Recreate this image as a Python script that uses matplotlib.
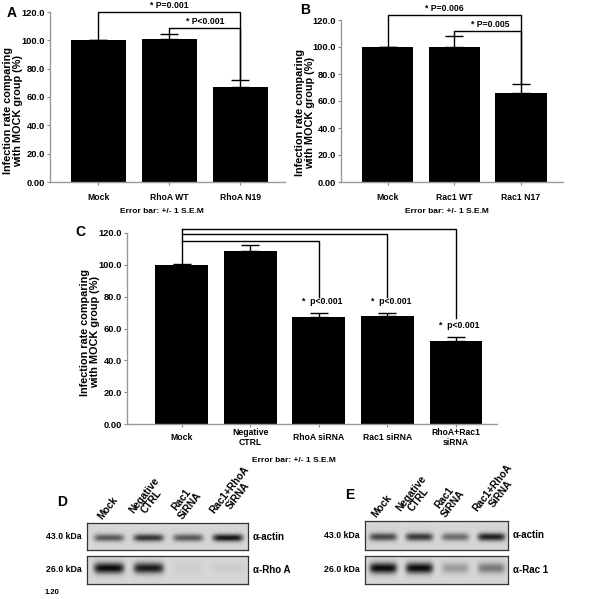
import numpy as np
import matplotlib
matplotlib.use('Agg')
import matplotlib.pyplot as plt

plt.rcParams['font.family'] = ['Liberation Sans', 'DejaVu Sans']
plt.rcParams['font.weight'] = 'bold'

W, H = 600, 599

# Panel A
a_labels = ['Mock', 'RhoA WT', 'RhoA N19']
a_values = [100.0, 101.0, 66.8]
a_err = [0.5, 3.7, 5.2]

# Panel B
b_labels = ['Mock', 'Rac1 WT', 'Rac1 N17']
b_values = [100.0, 100.0, 66.0]
b_err = [0.3, 8.0, 6.5]

# Panel C
c_labels = ['Mock', 'Negative\nCTRL', 'RhoA siRNA', 'Rac1 siRNA', 'RhoA+Rac1\nsiRNA']
c_values = [100.0, 109.0, 67.0, 68.0, 52.0]
c_err = [0.3, 3.5, 2.8, 2.0, 2.7]

y_ticks = [0, 20, 40, 60, 80, 100, 120]
y_ticklabels = ['0.00', '20.0', '40.0', '60.0', '80.0', '100.0', '120.0']

# significance brackets: (from, to, level, text)
a_pairs = [(0, 2, 120.3, '* P=0.001'), (1, 2, 109.0, '* P<0.001')]
b_pairs = [(0, 2, 123.7, '* P=0.006'), (1, 2, 112.0, '* P=0.005')]
c_targets = [2, 3, 4]
c_levels = [115.0, 119.4, 122.5]
c_leg_end = [80.0, 80.0, 66.5]
c_ptext = '*  p<0.001'

# Western blots: lanes and relative band intensities
lane_labels = ['Mock', 'Negative\nCTRL', 'Rac1\nSiRNA', 'Rac1+RhoA\nSiRNA']
d_actin = [0.62, 0.80, 0.62, 0.95]
d_rhoa = [1.00, 0.92, 0.04, 0.05]
e_actin = [0.70, 0.78, 0.52, 0.90]
e_rac1 = [1.00, 1.00, 0.28, 0.45]

fig = plt.figure(figsize=(6.0, 5.99), dpi=100)


def px_axes(x0, y0, x1, y1):
    return fig.add_axes([x0 / W, 1 - y1 / H, (x1 - x0) / W, (y1 - y0) / H])


def px_text(x, y, s, **kw):
    fig.text(x / W, 1 - y / H, s, **kw)


def bar_panel(ax, labels, values, err, xlim, label_pad):
    x = np.arange(len(values))
    ax.bar(x, values, width=0.77, color='black', zorder=2)
    ax.errorbar(x, values, yerr=[np.zeros(len(err)), err], fmt='none',
                ecolor='black', elinewidth=1, capsize=6.5, capthick=1, zorder=3)
    ax.set_xlim(*xlim)
    ax.set_ylim(0, 120)
    ax.set_yticks(y_ticks)
    ax.set_yticklabels(y_ticklabels)
    ax.set_xticks(x)
    ax.set_xticklabels(labels, va='center', linespacing=1.15)
    ax.tick_params(axis='both', width=0.8, length=2.5, color='#888')
    ax.tick_params(axis='y', pad=1, labelsize=6.7)
    ax.tick_params(axis='x', pad=label_pad, labelsize=6.2)
    for s in ['top', 'right']:
        ax.spines[s].set_visible(False)
    for s in ['left', 'bottom']:
        ax.spines[s].set_color('#999')
        ax.spines[s].set_linewidth(1)
    ax.set_facecolor('none')


def bracket(ax, i, j, level, left_bottom, right_bottom, text, tx=None):
    ax.plot([i, i, j, j], [left_bottom, level, level, right_bottom],
            color='black', lw=1, clip_on=False, zorder=4)
    if tx is None:
        tx = (i + j) / 2
    ax.text(tx, level + 1.2, text, ha='center', va='bottom', fontsize=6.2)


ylab = 'Infection rate comparing\nwith MOCK group (%)'

# ---- A
axA = px_axes(50, 12, 285, 182)
bar_panel(axA, a_labels, a_values, a_err, (-0.68, 2.63), 8.5)
tops_a = [v + e for v, e in zip(a_values, a_err)]
bracket(axA, 0, 2, a_pairs[0][2], a_values[0], tops_a[2], a_pairs[0][3])
bracket(axA, 1, 2, a_pairs[1][2], tops_a[1], tops_a[2], a_pairs[1][3])
px_text(13, 111, ylab, rotation=90, ha='center', va='center', fontsize=7.8, linespacing=1.1)
px_text(12, 13, 'A', ha='center', va='center', fontsize=10)
px_text(162, 212, 'Error bar: +/- 1 S.E.M', ha='center', va='center', fontsize=6)

# ---- B
axB = px_axes(341, 20, 563, 182)
bar_panel(axB, b_labels, b_values, b_err, (-0.7, 2.63), 8.5)
tops_b = [v + e for v, e in zip(b_values, b_err)]
bracket(axB, 0, 2, b_pairs[0][2], b_values[0], tops_b[2], b_pairs[0][3], tx=0.85)
bracket(axB, 1, 2, b_pairs[1][2], tops_b[1], tops_b[2], b_pairs[1][3], tx=1.54)
px_text(305, 113, ylab, rotation=90, ha='center', va='center', fontsize=7.8, linespacing=1.1)
px_text(305, 10, 'B', ha='center', va='center', fontsize=10)
px_text(447, 212, 'Error bar: +/- 1 S.E.M', ha='center', va='center', fontsize=6)

# ---- C
axC = px_axes(127, 233, 497, 424)
bar_panel(axC, c_labels, c_values, c_err, (-0.8, 4.6), 7.0)
axC.plot([0, 0], [c_values[0], max(c_levels)], color='black', lw=1, clip_on=False, zorder=4)
for t, lev, end in zip(c_targets, c_levels, c_leg_end):
    axC.plot([0, t, t], [lev, lev, end], color='black', lw=1, clip_on=False, zorder=4)
    axC.text(t + 0.05, c_values[t] + c_err[t] + 7, c_ptext, ha='center', va='center', fontsize=6.2)
px_text(90, 332, ylab, rotation=90, ha='center', va='center', fontsize=7.8, linespacing=1.1)
px_text(80, 232, 'C', ha='center', va='center', fontsize=10)
px_text(294, 460, 'Error bar: +/- 1 S.E.M', ha='center', va='center', fontsize=6)


# ---- Western blots
def blot(ax, intens, xlim, ypos, thick):
    xs = np.linspace(xlim[0], xlim[1], 260)
    ys = np.linspace(0, 1, 50)
    X, Y = np.meshgrid(xs, ys)
    dens = np.zeros_like(X)
    for i, v in enumerate(intens):
        dens += v * np.exp(-((X - i) / 0.38) ** 6) * np.exp(-((Y - ypos) / thick) ** 2)
    img = np.clip(0.84 - 0.8 * dens, 0, 1)
    ax.imshow(img, cmap='gray', vmin=0, vmax=1, aspect='auto',
              extent=(xlim[0], xlim[1], 1, 0), interpolation='bilinear')
    ax.set_xticks([])
    ax.set_yticks([])
    for s in ax.spines.values():
        s.set_color('#333')
        s.set_linewidth(0.9)


def blot_panel(letter, letter_xy, x0, x1, top1, bot1, top2, bot2, lanes_px, up, low,
               up_name, low_name, xlim):
    ax1 = px_axes(x0, top1, x1, bot1)
    blot(ax1, up, xlim, 0.55, 0.14)
    ax2 = px_axes(x0, top2, x1, bot2)
    blot(ax2, low, xlim, 0.45, 0.19)
    px_text(x0 - 5, (top1 + bot1) / 2, '43.0 kDa', ha='right', va='center', fontsize=6.3)
    px_text(x0 - 5, (top2 + bot2) / 2, '26.0 kDa', ha='right', va='center', fontsize=6.3)
    px_text(x1 + 5, (top1 + bot1) / 2, up_name, ha='left', va='center', fontsize=7)
    px_text(x1 + 5, (top2 + bot2) / 2, low_name, ha='left', va='center', fontsize=7)
    for lx, lab in zip(lanes_px, lane_labels):
        px_text(lx - 5, top1 - 2, lab, rotation=52, rotation_mode='anchor',
                ha='left', va='bottom', multialignment='center', fontsize=7.3,
                linespacing=1.0)
    px_text(letter_xy[0], letter_xy[1], letter, ha='center', va='center', fontsize=10)


blot_panel('D', (62, 502), 87, 248, 523, 550, 556, 584, [109, 148, 189, 229],
           d_actin, d_rhoa, '\u03b1-actin', '\u03b1-Rho A', (-0.55, 3.5))
blot_panel('E', (350, 495), 365, 508, 521, 550, 556, 584, [383, 415, 452, 492],
           e_actin, e_rac1, '\u03b1-actin', '\u03b1-Rac 1', (-0.5, 3.45))
px_text(52, 593, '1.20', ha='center', va='center', fontsize=5.5)

fig.savefig('out.png', dpi=100)
